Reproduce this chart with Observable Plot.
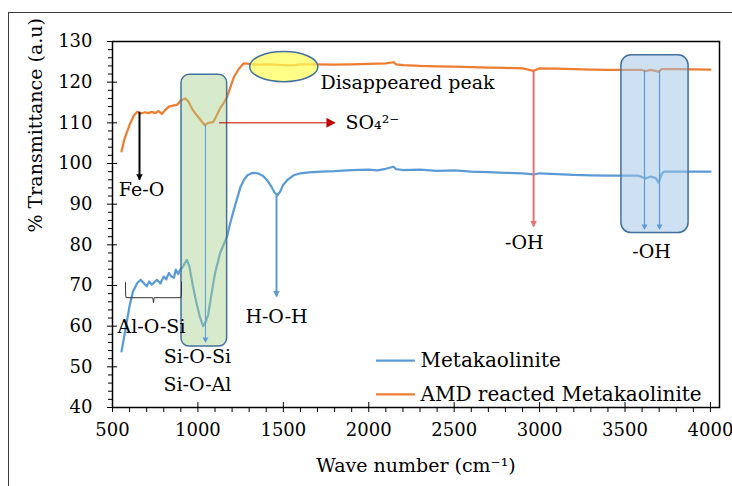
<!DOCTYPE html>
<html><head><meta charset="utf-8">
<script src="https://cdn.jsdelivr.net/npm/d3@7"></script>
<script src="https://cdn.jsdelivr.net/npm/@observablehq/plot@0.6"></script>
<style>
html,body{margin:0;padding:0;background:#fff;width:732px;height:486px;overflow:hidden;}
#border{position:absolute;left:8px;top:12px;width:780px;height:540px;border:1.5px solid #3a3a3a;box-sizing:border-box;}
#chart{position:absolute;left:0;top:0;}
#chart svg, #chart svg text{font-family:"DejaVu Serif",serif !important;}
</style></head><body>
<div id="border"></div>
<div id="chart"></div>
<script>
// ---- data ----
const seriesNames = ["Metakaolinite", "AMD reacted Metakaolinite"];
const seriesColors = ["#5b9bd5", "#ed7d31"];

const waveBlue = [553,575,600,620,645,665,685,700,715,730,745,760,780,800,815,830,845,860,870,885,895,910,935,950,970,990,1010,1030,1045,1060,1080,1100,1130,1150,1170,1190,1210,1230,1250,1270,1290,1320,1350,1380,1405,1430,1450,1465,1480,1500,1525,1560,1600,1650,1720,1800,1900,2000,2050,2100,2145,2160,2200,2300,2400,2500,2600,2700,2800,2900,2965,3000,3100,3200,3300,3400,3500,3580,3620,3650,3680,3696,3715,3730,3800,3900,4000];
const transBlue = [53.8,59,65,68.5,70.6,71.4,70.5,69.8,71,70.2,70.8,71.4,70.5,72.2,71.5,73.1,72.2,71.9,73.9,72.8,73.8,74.5,76.3,74.7,70,66,62.5,60,61,62.8,68,73,78,80,82,85.5,88.6,91.5,94.3,96,97.1,97.7,97.6,97,95.9,94.3,92.8,92.2,93,94.8,96,97.1,97.6,97.8,98,98.1,98.4,98.5,98.3,98.7,99.2,98.6,98.4,98.5,98.2,98.3,98.0,97.9,97.7,97.6,97.3,97.6,97.4,97.2,97.1,97.0,97.0,97.0,96.3,96.8,96.4,95.3,97.5,98,98,98,98];

const waveOrange = [553,570,600,625,645,665,690,710,730,750,770,790,805,830,860,880,900,925,945,965,985,1010,1040,1060,1090,1110,1130,1150,1170,1190,1210,1240,1267,1300,1350,1400,1450,1500,1550,1600,1700,1800,1900,2000,2100,2145,2160,2200,2300,2400,2500,2600,2700,2800,2900,2965,3000,3100,3200,3300,3400,3500,3600,3620,3650,3696,3715,3800,4000];
const transOrange = [103,106,109.5,111.8,112.7,112.3,112.6,112.4,112.7,112.4,112.9,112.2,113,114,114.3,114.5,115.5,116,115.2,113.5,112.3,111,109.4,110,110.2,111.8,113.6,114.8,116.3,118.8,121.2,123.3,124.6,124.5,124.3,124.4,124.3,124.2,124.1,124.4,124.4,124.3,124.4,124.5,124.6,124.9,124.4,124.2,124.0,123.9,123.8,123.7,123.6,123.5,123.4,122.8,123.4,123.3,123.2,123.1,123.0,123.0,123.0,122.7,123.0,122.6,123.2,123.2,123.1];

const xMajorTicks = [500,1000,1500,2000,2500,3000,3500,4000];
const yMajorTicks = [40,50,60,70,80,90,100,110,120,130];
const xTitle = "Wave number (cm\u207B\u00B9)";
const yTitle = "% Transmittance (a.u)";

// annotation anchors (data units)
const greenBox = [{x1: 904, x2: 1171, y1: 55.0, y2: 121.8}];
const blueBox = [{x1: 3479, x2: 3872, y1: 82.9, y2: 126.6}];
const peakEllipse = [{x1: 1306, x2: 1705, y1: 120.0, y2: 127.4}];
const downArrows = [
  {x: 658, y1: 112.6, y2: 95.9, color: "#000000", w: 2, head: 5.5},
  {x: 1044, y1: 109.4, y2: 55.9, color: "#5b9bd5", w: 1, head: 4.5},
  {x: 1460, y1: 92.2, y2: 67.2, color: "#5b9bd5", w: 2, head: 5.5},
  {x: 2965, y1: 122.8, y2: 84.4, color: "#e57373", w: 2, head: 5.5},
  {x: 3614, y1: 122.9, y2: 83.7, color: "#5b9bd5", w: 1.2, head: 4.5},
  {x: 3702, y1: 122.7, y2: 83.7, color: "#5b9bd5", w: 1.2, head: 4.5}
];
const rightArrows = [{y: 110, x1: 1126, x2: 1805, color: "#c00000"}];
const labels = [
  {x: 670, y: 93.5, text: "Fe-O", anchor: "middle"},
  {x: 728, y: 59.9, text: "Al-O-Si", anchor: "middle"},
  {x: 997, y: 52.5, text: "Si-O-Si", anchor: "middle"},
  {x: 997, y: 45.6, text: "Si-O-Al", anchor: "middle"},
  {x: 1460, y: 62.3, text: "H-O-H", anchor: "middle"},
  {x: 2911, y: 80.5, text: "-OH", anchor: "middle"},
  {x: 3655, y: 78.3, text: "-OH", anchor: "middle"},
  {x: 1717, y: 119.9, text: "Disappeared peak", anchor: "start"},
  {x: 1864, y: 110, text: "SO\u2084\u00B2\u207B", anchor: "start"}
];
const brace = [[576,70.7],[577,67.6],[580,67.0],[736,67.0],[740,65.8],[744,67.0],[900,67.0],[903,67.6],[904,70.9]];
const legendX = [2045, 2273, 2303];
const legendY = [51.5, 43.2];

// ---- helpers ----
const xMinor = d3.range(500, 4001, 100).filter(v => v % 500 !== 0);
const yMinor = d3.range(40, 131, 2).filter(v => v % 10 !== 0);
const toRows = (xs, ys, name) => xs.map((x, i) => ({x, y: ys[i], name}));
const blueRows = toRows(waveBlue, transBlue, seriesNames[0]);
const orangeRows = toRows(waveOrange, transOrange, seriesNames[1]);
const triDown = {draw(ctx, size) { const s = Math.sqrt(size / Math.PI); ctx.moveTo(-s, -1.8 * s); ctx.lineTo(s, -1.8 * s); ctx.lineTo(0, 0); ctx.closePath(); }};
const triRight = {draw(ctx, size) { const s = Math.sqrt(size / Math.PI); ctx.moveTo(-1.8 * s, -s); ctx.lineTo(-1.8 * s, s); ctx.lineTo(0, 0); ctx.closePath(); }};
const legendRows = seriesNames.map((n, i) => ({name: n, color: seriesColors[i], y: legendY[i]}));

const font = "DejaVu Serif";
const annSize = 19, tickSize = 18, titleSize = 19, legendSize = 20;

const chart = Plot.plot({
  width: 732, height: 486,
  marginLeft: 112, marginRight: 13, marginTop: 41, marginBottom: 79,
  x: {domain: [500, 4053]},
  y: {domain: [40, 130]},
  style: {fontFamily: font, fontSize: "18px", color: "#000", background: "transparent", overflow: "visible"},
  marks: [
    Plot.line(blueRows, {x: "x", y: "y", stroke: seriesColors[0], strokeWidth: 2.25}),
    Plot.line(orangeRows, {x: "x", y: "y", stroke: seriesColors[1], strokeWidth: 2.25}),
    Plot.rect(greenBox, {x1: "x1", x2: "x2", y1: "y1", y2: "y2", fill: "#a9d18e", fillOpacity: 0.45, stroke: "#41719c", strokeWidth: 1.5, rx: 8}),
    Plot.rect(blueBox, {x1: "x1", x2: "x2", y1: "y1", y2: "y2", fill: "#9dc3e6", fillOpacity: 0.5, stroke: "#41719c", strokeWidth: 1.5, rx: 10}),
    Plot.rect(peakEllipse, {x1: "x1", x2: "x2", y1: "y1", y2: "y2", fill: "#ffff55", fillOpacity: 0.7, stroke: "#41719c", strokeWidth: 1.5, rx: 34, ry: 15}),
    Plot.ruleX(downArrows, {x: "x", y1: "y1", y2: "y2", stroke: "color", strokeWidth: "w"}),
    Plot.dot(downArrows, {x: "x", y: "y2", fill: "color", stroke: "none", r: "head", symbol: triDown}),
    Plot.ruleY(rightArrows, {y: "y", x1: "x1", x2: "x2", stroke: "color", strokeWidth: 1}),
    Plot.dot(rightArrows, {x: "x2", y: "y", fill: "color", stroke: "none", r: 5, symbol: triRight}),
    Plot.line(brace, {x: d => d[0], y: d => d[1], stroke: "#333", strokeWidth: 1}),
    Plot.text(labels.filter(d => d.anchor === "middle"), {x: "x", y: "y", text: "text", textAnchor: "middle", fill: "#000", fontSize: annSize, fontFamily: font}),
    Plot.text(labels.filter(d => d.anchor === "start"), {x: "x", y: "y", text: "text", textAnchor: "start", fill: "#000", fontSize: annSize, fontFamily: font}),
    // legend
    Plot.ruleY(legendRows, {y: "y", x1: legendX[0], x2: legendX[1], stroke: "color", strokeWidth: 2.25}),
    Plot.text(legendRows, {x: legendX[2], y: "y", text: "name", textAnchor: "start", fill: "#000", fontSize: legendSize, fontFamily: font}),
    // frame + axes
    Plot.frame({stroke: "#000", strokeWidth: 1.5}),
    Plot.axisX(xMinor, {tickSize: 5, tickFormat: () => "", label: null, stroke: "#000"}),
    Plot.axisX(xMajorTicks, {tickSize: 10, dy: -5, tickFormat: () => "", label: null, stroke: "#000"}),
    Plot.axisX(xMajorTicks, {tickSize: 0, tickPadding: 16, label: null, fontSize: tickSize, fontFamily: font, tickFormat: d => String(d)}),
    Plot.axisY(yMinor, {tickSize: 4, tickFormat: () => "", label: null, stroke: "#000"}),
    Plot.axisY(yMajorTicks, {tickSize: 10, dx: 5, tickFormat: () => "", label: null, stroke: "#000"}),
    Plot.axisY(yMajorTicks, {tickSize: 0, tickPadding: 20, label: null, fontSize: tickSize, fontFamily: font, tickFormat: d => String(d)}),
    Plot.text([xTitle], {frameAnchor: "bottom", dy: 64, fontSize: titleSize, fill: "#000", fontFamily: font}),
    Plot.text([yTitle], {frameAnchor: "left", dx: -77, dy: 8, rotate: -90, fontSize: titleSize, fill: "#000", fontFamily: font})
  ]
});
document.getElementById("chart").appendChild(chart);
</script>
</body></html>
